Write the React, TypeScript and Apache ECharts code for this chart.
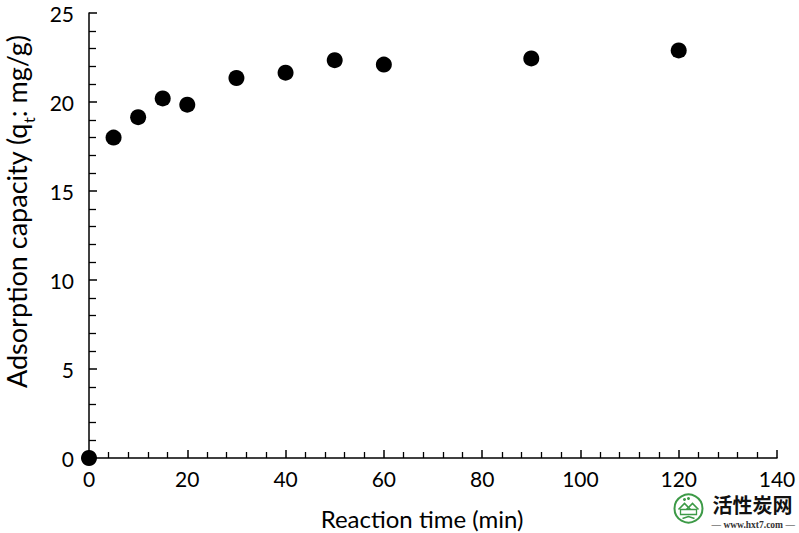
import React, { useEffect, useRef } from "react";
import * as echarts from "echarts";

const timeMin = [0, 5, 10, 15, 20, 30, 40, 50, 60, 90, 120];
const capacity = [0, 18.0, 19.15, 20.2, 19.85, 21.35, 21.65, 22.35, 22.1, 22.45, 22.9];
const xTitle = "Reaction time (min)";
const yTitleMain = "Adsorption capacity (q";
const yTitleSub = "t";
const yTitleEnd = ": mg/g)";
const FONT = "Lato, 'Open Sans', sans-serif";

export default function App() {
  const ref = useRef<HTMLDivElement>(null);
  useEffect(() => {
    if (!ref.current) return;
    const chart = echarts.init(ref.current, null, { renderer: "svg" });
    const data = timeMin.map((t, i) => [t, capacity[i]]);
    chart.setOption({
      animation: false,
      backgroundColor: "#ffffff",
      grid: { left: 89, right: 22, top: 13, bottom: 75 },
      xAxis: {
        type: "value",
        min: 0,
        max: 140,
        interval: 20,
        splitLine: { show: false },
        axisLine: { lineStyle: { color: "#000", width: 1.5 } },
        axisTick: { inside: true, length: 8, lineStyle: { color: "#000", width: 1.5 } },
        minorTick: { show: true, splitNumber: 5, length: 6, lineStyle: { color: "#000", width: 1.3 } },
        axisLabel: { color: "#000", fontSize: 21, fontFamily: FONT, margin: 10 },
      },
      yAxis: {
        type: "value",
        min: 0,
        max: 25,
        interval: 5,
        splitLine: { show: false },
        axisLine: { show: true, lineStyle: { color: "#000", width: 1.5 } },
        axisTick: { show: true, inside: true, length: 8, lineStyle: { color: "#000", width: 1.5 } },
        minorTick: { show: true, splitNumber: 5, length: 7, lineStyle: { color: "#000", width: 1.3 } },
        axisLabel: { color: "#000", fontSize: 21, fontFamily: FONT, margin: 15 },
      },
      series: [
        {
          type: "scatter",
          data,
          symbol: "circle",
          symbolSize: 16,
          itemStyle: { color: "#000", opacity: 1 },
          clip: false,
        },
      ],
      graphic: [
        {
          type: "text",
          x: 422,
          y: 518,
          style: {
            text: xTitle,
            align: "center",
            verticalAlign: "middle",
            fontSize: 24,
            fontFamily: FONT,
            fill: "#000",
          },
        },
        {
          type: "text",
          x: 15,
          y: 388,
          rotation: Math.PI / 2,
          style: {
            text: `{a|${yTitleMain}}{s|${yTitleSub}}{a|${yTitleEnd}}`,
            align: "left",
            verticalAlign: "middle",
            fill: "#000",
            rich: {
              a: { fontSize: 27, fontFamily: FONT, fill: "#000", lineHeight: 30, verticalAlign: "bottom" },
              s: { fontSize: 16, fontFamily: FONT, fill: "#000", lineHeight: 30, verticalAlign: "bottom", padding: [0, 0, -6, 0] },
            },
          },
        },
        {
          type: "group",
          left: 672,
          top: 492,
          children: [
            { type: "circle", shape: { cx: 16, cy: 17, r: 14 }, style: { fill: "none", stroke: "#3d9a47", lineWidth: 2 } },
            { type: "polyline", shape: { points: [[6, 18], [12, 12], [18, 18]] }, style: { stroke: "#3d9a47", lineWidth: 1.6, fill: "none" } },
            { type: "polyline", shape: { points: [[14, 18], [20, 12], [26, 18]] }, style: { stroke: "#3d9a47", lineWidth: 1.6, fill: "none" } },
            { type: "rect", shape: { x: 8, y: 18, width: 16, height: 5 }, style: { fill: "none", stroke: "#3d9a47", lineWidth: 1.3 } },
            { type: "polyline", shape: { points: [[10, 27], [16, 25], [22, 27]] }, style: { stroke: "#3d9a47", lineWidth: 1.5, fill: "none" } },
            { type: "circle", shape: { cx: 12, cy: 8, r: 1.5 }, style: { fill: "#3d9a47" } },
            { type: "circle", shape: { cx: 16, cy: 7, r: 1.5 }, style: { fill: "#3d9a47" } },
            {
              type: "text",
              x: 40,
              y: 3,
              style: { text: "活性炭网", fontSize: 20, fontWeight: "bold", fontFamily: "'Noto Sans CJK SC', sans-serif", fill: "#111" },
            },
            {
              type: "text",
              x: 39,
              y: 28,
              style: { text: "— www.hxt7.com —", fontSize: 9.5, fontWeight: "bold", fontFamily: "'Liberation Serif', serif", fill: "#333" },
            },
          ],
        },
      ],
    });
    return () => chart.dispose();
  }, []);
  return <div ref={ref} style={{ width: 799, height: 533, position: "absolute", left: 0, top: 0 }} />;
}
